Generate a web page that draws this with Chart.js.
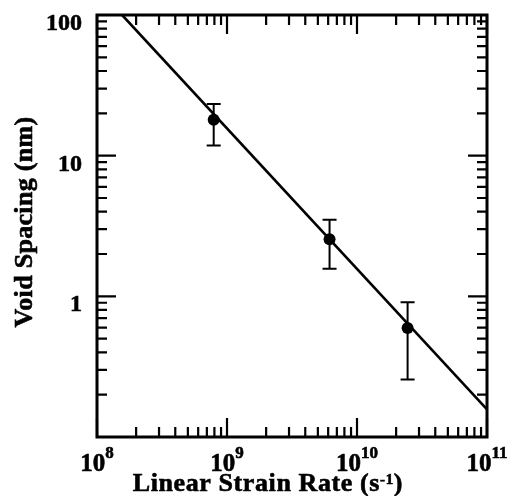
<!DOCTYPE html>
<html>
<head>
<meta charset="utf-8">
<script src="https://cdn.jsdelivr.net/npm/chart.js@4/dist/chart.umd.min.js"></script>
<style>
  html, body { margin: 0; padding: 0; background: #fff; }
  #wrap { width: 510px; height: 496px; }
</style>
</head>
<body>
<div id="wrap"><canvas id="c" width="510" height="496"></canvas></div>
<script>
// --- данные ---
const xMajor = [1e8, 1e9, 1e10, 1e11];
const xExp   = ["8", "9", "10", "11"];
const yMajor = [0.1, 1, 10, 100];
const yTickLabels = ["", "1", "10", "100"];
const minorSteps = [2, 3, 4, 5, 6, 7, 8, 9];

const rate      = [7.9e8, 6.15e9, 2.45e10];   // s^-1
const spacing   = [18.0, 2.55, 0.595];        // nm
const spacingLo = [11.8, 1.57, 0.256];
const spacingHi = [23.3, 3.51, 0.906];

const fitRate    = [1.56e8, 1e11];
const fitSpacing = [100, 0.157];

const FONT = '"Liberation Serif", "Times New Roman", serif';

// жирный текст как на скане: заливка + тонкая обводка
function boldText(ctx, s, x, y) {
  ctx.fillText(s, x, y);
  ctx.strokeText(s, x, y);
}

// рамка, засечки внутрь, подписи со степенями, планки погрешностей
const framePlugin = {
  id: "frame",
  beforeDatasetsDraw(chart) {
    const ctx = chart.ctx, x = chart.scales.x, y = chart.scales.y;
    ctx.save();
    ctx.strokeStyle = "#000";
    ctx.lineWidth = 2;
    const cap = 7;
    rate.forEach((r, i) => {
      const px = x.getPixelForValue(r);
      const top = y.getPixelForValue(spacingHi[i]);
      const bot = y.getPixelForValue(spacingLo[i]);
      ctx.beginPath();
      ctx.moveTo(px, top); ctx.lineTo(px, bot);
      ctx.moveTo(px - cap, top); ctx.lineTo(px + cap, top);
      ctx.moveTo(px - cap, bot); ctx.lineTo(px + cap, bot);
      ctx.stroke();
    });
    ctx.restore();
  },
  afterDraw(chart) {
    const ctx = chart.ctx, a = chart.chartArea;
    const x = chart.scales.x, y = chart.scales.y;
    const MAJ = 19, MIN = 10;
    ctx.save();
    ctx.strokeStyle = "#000";
    ctx.fillStyle = "#000";

    // засечки
    ctx.lineWidth = 2.2;
    ctx.beginPath();
    const xTick = (v, len) => {
      const px = x.getPixelForValue(v);
      ctx.moveTo(px, a.bottom); ctx.lineTo(px, a.bottom - len);
      ctx.moveTo(px, a.top);    ctx.lineTo(px, a.top + len);
    };
    const yTick = (v, len) => {
      const py = y.getPixelForValue(v);
      ctx.moveTo(a.left, py);  ctx.lineTo(a.left + len, py);
      ctx.moveTo(a.right, py); ctx.lineTo(a.right - len, py);
    };
    xMajor.forEach((v, i) => {
      xTick(v, MAJ);
      if (i < xMajor.length - 1) minorSteps.forEach(m => xTick(v * m, MIN));
    });
    yMajor.forEach((v, i) => {
      yTick(v, MAJ);
      if (i < yMajor.length - 1) minorSteps.forEach(m => yTick(v * m, MIN));
    });
    ctx.stroke();

    // рамка
    ctx.lineWidth = 3;
    ctx.strokeRect(a.left, a.top, a.right - a.left, a.bottom - a.top);

    ctx.lineWidth = 0.6;
    ctx.textBaseline = "alphabetic";

    // подписи Y
    ctx.font = "bold 24px " + FONT;
    ctx.textAlign = "right";
    yMajor.forEach((v, i) => {
      if (yTickLabels[i]) boldText(ctx, yTickLabels[i], 82, y.getPixelForValue(v) + 15);
    });

    // подписи X: 10 со степенью
    ctx.textAlign = "left";
    xMajor.forEach((v, i) => {
      const px = x.getPixelForValue(v);
      ctx.font = "bold 25px " + FONT;
      const wb = ctx.measureText("10").width;
      ctx.font = "bold 17px " + FONT;
      const we = ctx.measureText(xExp[i]).width;
      const x0 = px - (wb + we) / 2;
      ctx.font = "bold 25px " + FONT;
      boldText(ctx, "10", x0, 471);
      ctx.font = "bold 17px " + FONT;
      boldText(ctx, xExp[i], x0 + wb, 458);
    });

    // заголовок X
    const t1 = "Linear Strain Rate (s", t2 = "-1", t3 = ")";
    ctx.letterSpacing = "0.6px";
    ctx.font = "bold 26px " + FONT;
    const w1 = ctx.measureText(t1).width, w3 = ctx.measureText(t3).width;
    ctx.font = "bold 15px " + FONT;
    const w2 = ctx.measureText(t2).width;
    const tx = 403 - (w1 + w2 + w3);
    ctx.font = "bold 26px " + FONT;
    boldText(ctx, t1, tx, 491);
    ctx.font = "bold 15px " + FONT;
    boldText(ctx, t2, tx + w1, 484);
    ctx.font = "bold 26px " + FONT;
    boldText(ctx, t3, tx + w1 + w2, 491);

    // заголовок Y
    ctx.letterSpacing = "0.3px";
    ctx.translate(32, 222);
    ctx.rotate(-Math.PI / 2);
    ctx.textAlign = "center";
    ctx.font = "bold 26px " + FONT;
    boldText(ctx, "Void Spacing (nm)", 0, 0);
    ctx.restore();
  }
};

new Chart(document.getElementById("c").getContext("2d"), {
  type: "scatter",
  data: {
    datasets: [
      {
        data: fitRate.map((r, i) => ({ x: r, y: fitSpacing[i] })),
        showLine: true,
        borderColor: "#000",
        borderWidth: 2.6,
        pointRadius: 0,
      },
      {
        data: rate.map((r, i) => ({ x: r, y: spacing[i] })),
        pointRadius: 6,
        backgroundColor: "#000",
        borderColor: "#000",
        borderWidth: 0,
      },
    ],
  },
  options: {
    responsive: false,
    animation: false,
    devicePixelRatio: 1,
    layout: { padding: { left: 97, right: 23, top: 15, bottom: 59 } },
    plugins: { legend: { display: false }, tooltip: { enabled: false } },
    scales: {
      x: { type: "logarithmic", min: 1e8, max: 1e11, display: false },
      y: { type: "logarithmic", min: 0.1, max: 100, display: false },
    },
  },
  plugins: [framePlugin],
});
</script>
</body>
</html>
